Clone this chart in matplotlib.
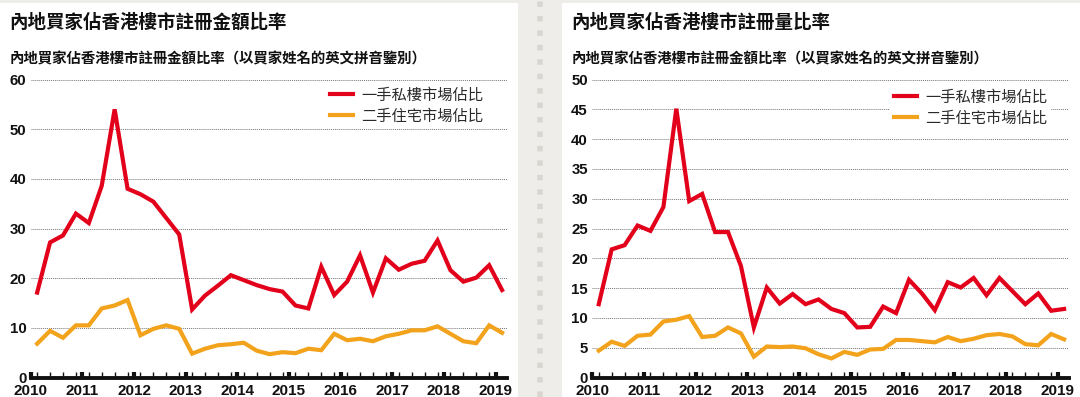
import matplotlib
matplotlib.use('Agg')
import matplotlib.pyplot as plt
from matplotlib.patches import Rectangle
from matplotlib.lines import Line2D
from matplotlib.ticker import MultipleLocator
import pandas as pd

# quarterly data, 2010Q1 - 2019Q1
quarters = pd.period_range('2010Q1', '2019Q1', freq='Q')

# share of registered amount (%)
amount_new = [17.1, 27.2, 28.6, 33.0, 31.1, 38.6, 54.0, 38.0, 36.9, 35.4, 32.1, 28.8,
              13.7, 16.5, 18.5, 20.6, 19.6, 18.6, 17.8, 17.3, 14.5, 13.9, 22.3, 16.6,
              19.3, 24.6, 17.1, 24.0, 21.7, 22.9, 23.5, 27.6, 21.6, 19.3, 20.1, 22.6, 17.6]
amount_second = [6.8, 9.4, 8.0, 10.5, 10.5, 13.9, 14.5, 15.6, 8.5, 9.8, 10.5, 9.8,
                 4.8, 5.8, 6.5, 6.7, 7.0, 5.4, 4.7, 5.1, 4.9, 5.8, 5.5, 8.8,
                 7.5, 7.8, 7.3, 8.3, 8.8, 9.5, 9.5, 10.3, 8.8, 7.3, 6.9, 10.5, 9.0]

# share of registered volume (%)
volume_new = [12.3, 21.5, 22.2, 25.5, 24.6, 28.6, 45.1, 29.6, 30.8, 24.4, 24.4, 18.7,
              8.4, 15.1, 12.4, 14.0, 12.3, 13.1, 11.5, 10.8, 8.4, 8.5, 11.9, 10.8,
              16.4, 14.1, 11.3, 16.0, 15.1, 16.7, 13.8, 16.7, 14.5, 12.3, 14.1, 11.2, 11.5]
volume_second = [4.5, 6.0, 5.3, 7.0, 7.2, 9.4, 9.7, 10.3, 6.8, 7.0, 8.4, 7.4,
                 3.5, 5.2, 5.1, 5.2, 4.9, 3.9, 3.2, 4.3, 3.8, 4.7, 4.8, 6.3,
                 6.3, 6.1, 5.9, 6.8, 6.1, 6.5, 7.1, 7.3, 6.9, 5.6, 5.4, 7.3, 6.4]

years = list(range(2010, 2020))
series_labels = ['一手私樓市場佔比', '二手住宅市場佔比']
titles = ['內地買家佔香港樓市註冊金額比率', '內地買家佔香港樓市註冊量比率']
subtitle = '內地買家佔香港樓市註冊金額比率（以買家姓名的英文拼音鑒別）'

RED = '#e2001a'
ORANGE = '#f2a31b'
CJK = ['Noto Sans CJK TC', 'DejaVu Sans']
NUM = ['Liberation Sans', 'DejaVu Sans']

W, H = 1080, 397


def fx(px):
    return px / W


def fy(py):
    return 1 - py / H


# quarter midpoints on a decimal-year scale
xq = [q.year + (q.quarter - 0.5) / 4 for q in quarters]

fig = plt.figure(figsize=(W / 100, H / 100), dpi=100)
fig.patch.set_facecolor('#efedea')

# white panels and the dotted separator (behind the axes)
for left, right in [(0, 518), (562, 1080)]:
    fig.patches.append(Rectangle((fx(left), 0), fx(right - left), fy(3),
                                 transform=fig.transFigure, facecolor='white',
                                 edgecolor='none', zorder=-5))
fig.add_artist(Line2D([fx(540), fx(540)], [0, 1], transform=fig.transFigure,
                      color='#d9d6d1', lw=4, linestyle=(0, (1, 1.6)), zorder=-5))


def draw_panel(x0, x1, ymax, ystep, new, second, title, leg_xy):
    # axes box in pixels: value 0 at y=377.5, ymax at y=79.5
    bottom, top = 377.5, 79.5
    ax = fig.add_axes([fx(x0), fy(bottom), fx(x1 - x0), (bottom - top) / H])
    ax.patch.set_alpha(0)
    ax.plot(xq, new, color=RED, lw=3, solid_joinstyle='miter', label=series_labels[0], zorder=3)
    ax.plot(xq, second, color=ORANGE, lw=3, solid_joinstyle='miter', label=series_labels[1], zorder=3)

    ax.set_xlim(2010, 2019.22)
    ax.set_ylim(0, ymax)
    ax.yaxis.set_major_locator(MultipleLocator(ystep))
    ax.set_xticks(years)
    ax.set_xticks(xq[:-1] + [2019.0], minor=True)
    ax.set_xticklabels([str(y) for y in years], fontsize=11, fontweight='bold', family=NUM)
    for lab in ax.get_yticklabels():
        lab.set_fontsize(10.8)
        lab.set_fontweight('bold')
        lab.set_family(NUM)
    ax.tick_params(axis='y', length=0, pad=3.2, colors='#111111')
    ax.tick_params(axis='x', which='major', direction='in', length=4, width=3, pad=5, colors='#111111')
    ax.tick_params(axis='x', which='minor', direction='in', length=4, width=1, color='#111111')

    for s in ['left', 'right', 'top']:
        ax.spines[s].set_visible(False)
    ax.spines['bottom'].set_linewidth(2.8)
    ax.spines['bottom'].set_color('#111111')

    ax.yaxis.grid(True, linestyle=(0, (1, 1)), color='#777777', lw=0.7)
    ax.set_axisbelow(True)

    leg = ax.legend(loc='upper left', bbox_to_anchor=(fx(leg_xy[0]), fy(leg_xy[1])),
                    bbox_transform=fig.transFigure, frameon=True, facecolor='white',
                    edgecolor='none', framealpha=1, fancybox=False, borderpad=0.3,
                    borderaxespad=0, handlelength=1.55, handletextpad=0.5,
                    labelspacing=0.25, prop={'family': CJK, 'size': 11})
    for t in leg.get_texts():
        t.set_color('#2a2a2a')
    for h in leg.get_lines():
        h.set_linewidth(3)

    # titles
    fig.text(fx(x0 - 21), fy(22.5), title, family=CJK, fontsize=13.3,
             fontweight='bold', color='#111111', va='center', ha='left')
    fig.text(fx(x0 - 21), fy(59), subtitle, family=CJK, fontsize=10.4,
             fontweight='bold', color='#111111', va='center', ha='left')
    return ax


draw_panel(30.7, 507, 60, 10, amount_new, amount_second, titles[0], (325, 82))
draw_panel(592.3, 1069, 50, 5, volume_new, volume_second, titles[1], (889, 84))

plt.savefig('out.png', dpi=100, facecolor=fig.get_facecolor())
